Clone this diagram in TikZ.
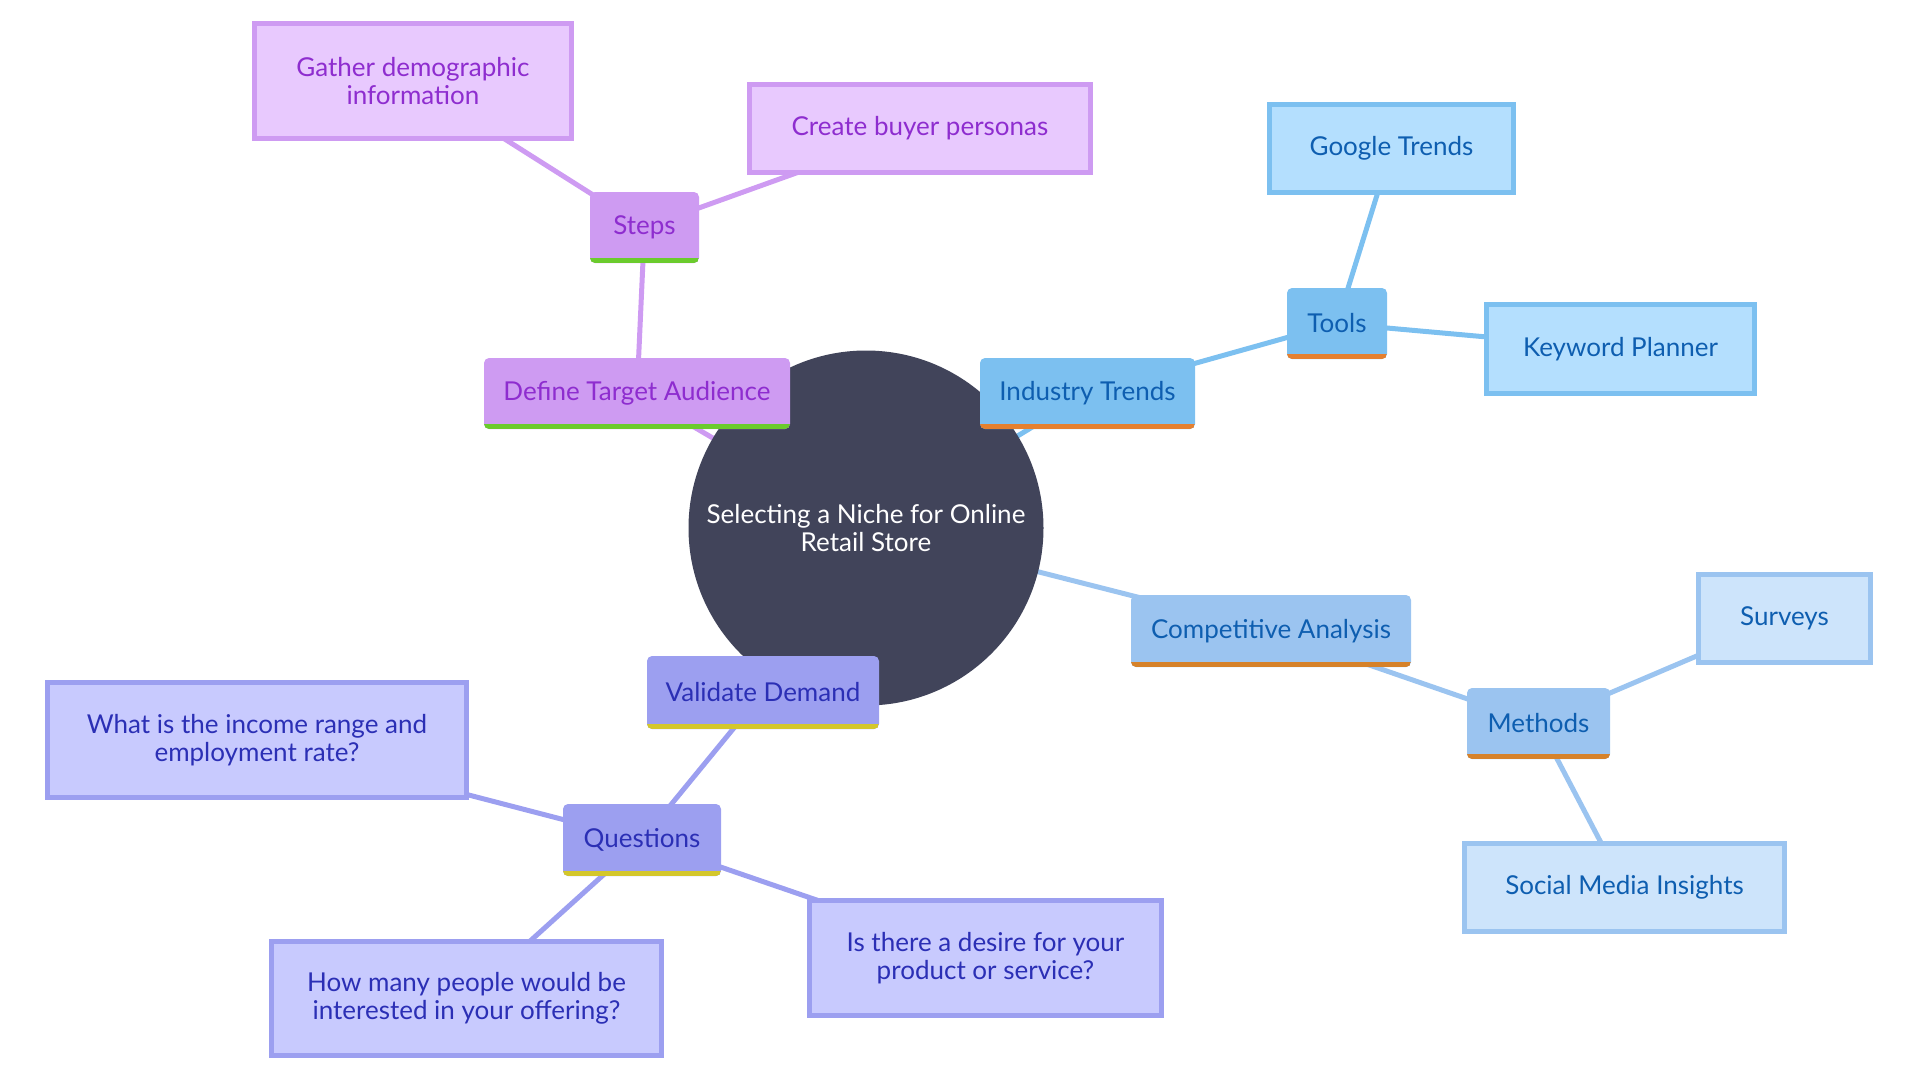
\documentclass[tikz,border=0pt]{standalone}
\usepackage{fontspec}
\setmainfont{Lato}
\usetikzlibrary{backgrounds}
\definecolor{hubfill}{HTML}{41445A}
\definecolor{audfill}{HTML}{CE9BF2}
\definecolor{audleaf}{HTML}{E8C9FE}
\definecolor{audtext}{HTML}{8E2DCF}
\definecolor{audbar}{HTML}{6BCB2D}
\definecolor{trdfill}{HTML}{7CC0F0}
\definecolor{trdleaf}{HTML}{B4DFFE}
\definecolor{trdtext}{HTML}{0E5EB0}
\definecolor{trdbar}{HTML}{E5802F}
\definecolor{cmpfill}{HTML}{9BC4F0}
\definecolor{cmpleaf}{HTML}{CDE4FB}
\definecolor{cmpbar}{HTML}{D6822A}
\definecolor{valfill}{HTML}{9C9FF0}
\definecolor{valleaf}{HTML}{C8CAFE}
\definecolor{valtext}{HTML}{2B2FB5}
\definecolor{valbar}{HTML}{D4C72B}
\begin{document}
\begin{tikzpicture}[x=1pt,y=-1pt,
  font=\fontsize{26}{27.5}\selectfont,
  hub/.style={circle,fill=hubfill,text=white,minimum size=355pt,inner sep=0pt,align=center},
  mid/.style n args={3}{rectangle,fill=#1,text=#2,rounded corners=5pt,inner sep=0pt,align=center,
    path picture={\fill[#3,sharp corners] ([yshift=5pt]path picture bounding box.south west) rectangle (path picture bounding box.south east);}},
  leaf/.style n args={3}{rectangle,draw=#1,fill=#2,text=#3,line width=5pt,inner sep=0pt,align=center},
  link/.style={draw=#1,line width=5pt}]
\useasboundingbox (0,0) rectangle (1920,1080);
\node[hub] (hub) at (866,528) {Selecting a Niche for Online\\Retail Store};
% define target audience
\node[mid={audfill}{audtext}{audbar},minimum width=306pt,minimum height=71pt] (aud) at (637,393.5) {Define Target Audience};
\node[mid={audfill}{audtext}{audbar},minimum width=109pt,minimum height=71pt] (steps) at (644.5,227.5) {Steps};
\node[leaf={audfill}{audleaf}{audtext},minimum width=317pt,minimum height=115pt] (gather) at (413,81) {Gather demographic\\information};
\node[leaf={audfill}{audleaf}{audtext},minimum width=341pt,minimum height=88pt] (persona) at (920,128.5) {Create buyer personas};
% industry trends
\node[mid={trdfill}{trdtext}{trdbar},minimum width=215pt,minimum height=71pt] (trend) at (1087.5,393.5) {Industry Trends};
\node[mid={trdfill}{trdtext}{trdbar},minimum width=100pt,minimum height=71pt] (tools) at (1337,323.5) {Tools};
\node[leaf={trdfill}{trdleaf}{trdtext},minimum width=244pt,minimum height=88pt] (google) at (1391.5,148.5) {Google Trends};
\node[leaf={trdfill}{trdleaf}{trdtext},minimum width=268pt,minimum height=89pt] (keyword) at (1620.5,349) {Keyword Planner};
% competitive analysis
\node[mid={cmpfill}{trdtext}{cmpbar},minimum width=280pt,minimum height=72pt] (comp) at (1271,631) {Competitive Analysis};
\node[mid={cmpfill}{trdtext}{cmpbar},minimum width=143pt,minimum height=71pt] (methods) at (1538.5,723.5) {Methods};
\node[leaf={cmpfill}{cmpleaf}{trdtext},minimum width=172pt,minimum height=88pt] (survey) at (1784.5,618.5) {Surveys};
\node[leaf={cmpfill}{cmpleaf}{trdtext},minimum width=320pt,minimum height=88pt] (social) at (1624.5,887.5) {Social Media Insights};
% validate demand
\node[mid={valfill}{valtext}{valbar},minimum width=232pt,minimum height=73pt] (valid) at (763,692.5) {Validate Demand};
\node[mid={valfill}{valtext}{valbar},minimum width=158pt,minimum height=72pt] (quest) at (642,840) {Questions};
\node[leaf={valfill}{valleaf}{valtext},minimum width=419pt,minimum height=115pt] (income) at (257,740) {What is the income range and\\employment rate?};
\node[leaf={valfill}{valleaf}{valtext},minimum width=390pt,minimum height=114pt] (many) at (466.5,998.5) {How many people would be\\interested in your offering?};
\node[leaf={valfill}{valleaf}{valtext},minimum width=352pt,minimum height=115pt] (desire) at (985.5,958) {Is there a desire for your\\product or service?};
\begin{pgfonlayer}{background}
\draw[link=audfill] (hub.center) -- (aud.center);
\draw[link=audfill] (aud.center) -- (steps.center);
\draw[link=audfill] (steps.center) -- (gather.center);
\draw[link=audfill] (steps.center) -- (persona.center);
\draw[link=trdfill] (hub.center) -- (trend.center);
\draw[link=trdfill] (trend.center) -- (tools.center);
\draw[link=trdfill] (tools.center) -- (google.center);
\draw[link=trdfill] (tools.center) -- (keyword.center);
\draw[link=cmpfill] (hub.center) -- (comp.center);
\draw[link=cmpfill] (comp.center) -- (methods.center);
\draw[link=cmpfill] (methods.center) -- (survey.center);
\draw[link=cmpfill] (methods.center) -- (social.center);
\draw[link=valfill] (hub.center) -- (valid.center);
\draw[link=valfill] (valid.center) -- (quest.center);
\draw[link=valfill] (quest.center) -- (income.center);
\draw[link=valfill] (quest.center) -- (many.center);
\draw[link=valfill] (quest.center) -- (desire.center);
\end{pgfonlayer}
\end{tikzpicture}
\end{document}
